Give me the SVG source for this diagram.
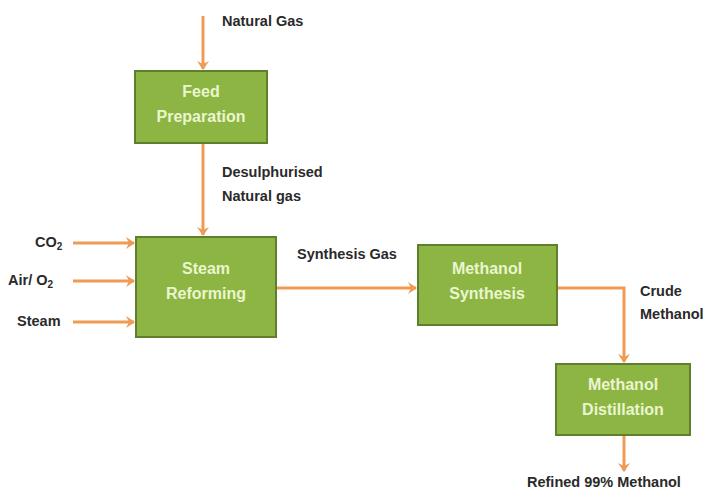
<svg xmlns="http://www.w3.org/2000/svg" width="712" height="490" viewBox="0 0 712 490">
<defs>
<marker id="ah" markerWidth="12" markerHeight="12" refX="8" refY="6" orient="auto" markerUnits="userSpaceOnUse">
<path d="M0,0 L9,6 L0,12 L3,6 Z" fill="#ef9a55"/>
</marker>
<style>
.box{fill:#8db543;stroke:#5f7f2c;stroke-width:2}
.bt{font-family:"Liberation Sans",Arial,sans-serif;font-weight:bold;font-size:16px;fill:#eaf6cf;text-anchor:middle}
.lb{font-family:"Liberation Sans",Arial,sans-serif;font-weight:bold;font-size:14.5px;fill:#2a2a2a}
.c{fill:none;stroke:#ef9a55;stroke-width:3;marker-end:url(#ah)}
</style>
</defs>
<rect width="712" height="490" fill="#ffffff"/>
<g id="connectors">
<path class="c" d="M203,16 V69"/>
<path class="c" d="M203,144 V235"/>
<path class="c" d="M73,243 H134"/>
<path class="c" d="M73,281 H134"/>
<path class="c" d="M73,322 H134"/>
<path class="c" d="M277,288 H416"/>
<path class="c" d="M558,288 H624 V362"/>
<path class="c" d="M624,436 V471"/>
</g>
<g id="labels">
<text class="lb" x="222" y="26">Natural Gas</text>
<text class="lb" x="222" y="177">Desulphurised</text>
<text class="lb" x="222" y="201">Natural gas</text>
<text class="lb" x="35" y="247">CO<tspan font-size="10" dy="3">2</tspan></text>
<text class="lb" x="8" y="285">Air/ O<tspan font-size="10" dy="3">2</tspan></text>
<text class="lb" x="17" y="326">Steam</text>
<text class="lb" x="297" y="259">Synthesis Gas</text>
<text class="lb" x="640" y="296">Crude</text>
<text class="lb" x="640" y="319">Methanol</text>
<text class="lb" x="527" y="487">Refined 99% Methanol</text>
</g>
<g id="feed">
<rect class="box" x="135" y="71" width="132" height="72"/>
<text class="bt" x="201" y="97">Feed</text>
<text class="bt" x="201" y="122">Preparation</text>
</g>
<g id="reforming">
<rect class="box" x="136" y="237" width="140" height="100"/>
<text class="bt" x="206" y="274">Steam</text>
<text class="bt" x="206" y="299">Reforming</text>
</g>
<g id="synthesis">
<rect class="box" x="418" y="245" width="139" height="80"/>
<text class="bt" x="487" y="274">Methanol</text>
<text class="bt" x="487" y="299">Synthesis</text>
</g>
<g id="distillation">
<rect class="box" x="556" y="364" width="134" height="71"/>
<text class="bt" x="623" y="390">Methanol</text>
<text class="bt" x="623" y="415">Distillation</text>
</g>
</svg>
